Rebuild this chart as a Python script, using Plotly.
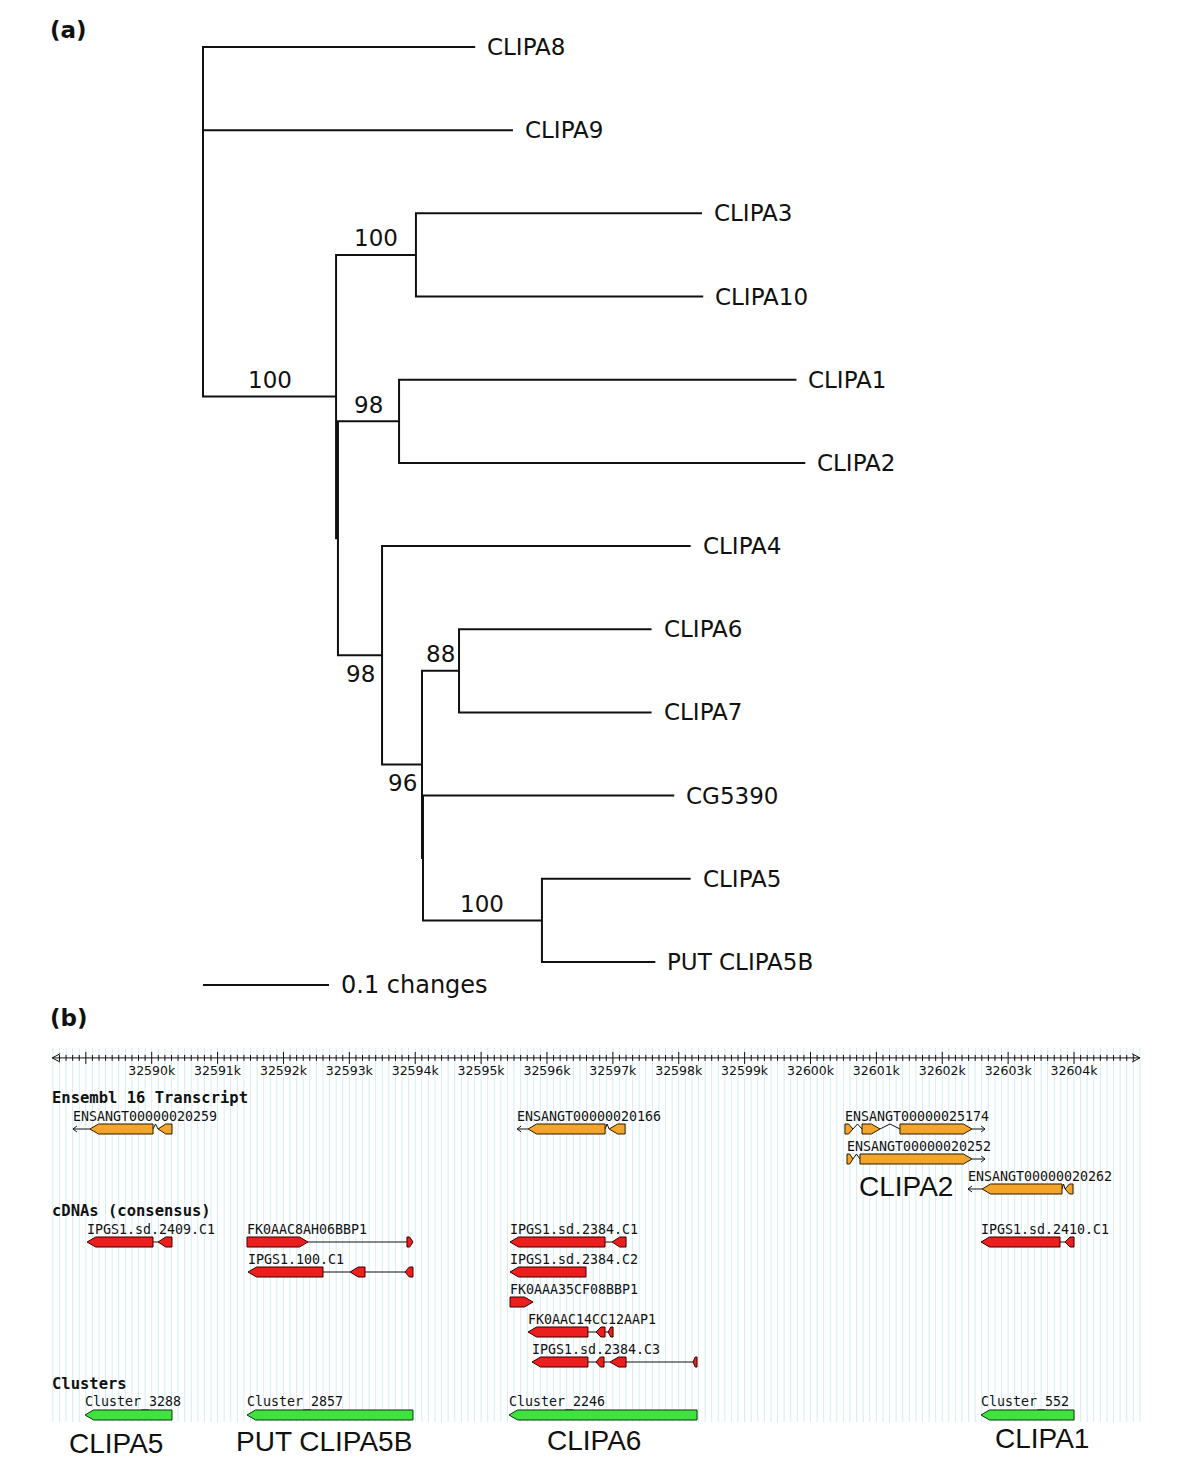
import plotly.graph_objects as go

# ------------------------------------------------------------------
# Panel (a): neighbour-joining tree
# ------------------------------------------------------------------
leaf_names = ["CLIPA8", "CLIPA9", "CLIPA3", "CLIPA10", "CLIPA1", "CLIPA2",
              "CLIPA4", "CLIPA6", "CLIPA7", "CG5390", "CLIPA5", "PUT CLIPA5B"]
leaf_parent = ["root", "root", "n310", "n310", "n12", "n12",
               "C", "E", "E", "F", "G", "G"]
leaf_depth = [0.216, 0.246, 0.396, 0.397, 0.471, 0.478,
              0.387, 0.356, 0.356, 0.374, 0.387, 0.359]

node_names = ["root", "A", "B", "n310", "n12", "C", "D", "E", "F", "G"]
node_parent = [None, "root", "A", "A", "B", "B", "C", "D", "D", "F"]
node_depth = [0.0, 0.1056, 0.1071, 0.1690, 0.1556, 0.1421, 0.1738, 0.2032, 0.1746, 0.2690]

boot_nodes = ["A", "n310", "n12", "C", "E", "D", "G"]
boot_values = [100, 100, 98, 98, 88, 96, 100]
boot_side = ["above", "above", "above", "below", "above", "below", "above"]

scale_len = 0.1
scale_label = "0.1 changes"

# ------------------------------------------------------------------
# Panel (b): genome browser view (positions in kb)
# ------------------------------------------------------------------
ruler_start, ruler_end = 32588.49, 32605.0
major_ticks = list(range(32590, 32605))
major_labels = [f"{t}k" for t in major_ticks]

track_names = ["Ensembl 16 Transcript", "cDNAs (consensus)", "Clusters"]
track_offset = [0.0, 3.767, 9.533]
track_fill = ["#F2A52A", "#EC1E1E", "#3FE23F"]
track_edge = ["#2b1a00", "#3a0000", "#0b360b"]

feat_names = [
    "ENSANGT00000020259", "ENSANGT00000020166", "ENSANGT00000025174",
    "ENSANGT00000020252", "ENSANGT00000020262",
    "IPGS1.sd.2409.C1", "FK0AAC8AH06BBP1", "IPGS1.100.C1",
    "IPGS1.sd.2384.C1", "IPGS1.sd.2384.C2", "FK0AAA35CF08BBP1",
    "FK0AAC14CC12AAP1", "IPGS1.sd.2384.C3", "IPGS1.sd.2410.C1",
    "Cluster_3288", "Cluster_2857", "Cluster_2246", "Cluster_552",
]
feat_track = [0, 0, 0, 0, 0,
              1, 1, 1, 1, 1, 1, 1, 1, 1,
              2, 2, 2, 2]
feat_row = [0, 0, 0, 1, 2,
            0, 0, 1, 0, 1, 2, 3, 4, 0,
            0, 0, 0, 0]
feat_strand = [-1, -1, 1, 1, -1,
               -1, 1, -1, -1, -1, 1, -1, -1, -1,
               -1, -1, -1, -1]
feat_exons = [
    [(32589.063, 32590.020), (32590.096, 32590.308)],
    [(32595.713, 32596.882), (32596.943, 32597.186)],
    [(32600.523, 32600.645), (32600.782, 32601.055), (32601.358, 32602.451)],
    [(32600.554, 32600.645), (32600.751, 32602.451)],
    [(32602.604, 32603.818), (32603.864, 32603.985)],
    [(32589.019, 32590.020), (32590.096, 32590.308)],
    [(32591.447, 32592.373), (32593.875, 32593.966)],
    [(32591.462, 32592.600), (32593.010, 32593.238), (32593.845, 32593.966)],
    [(32595.439, 32596.881), (32596.988, 32597.200)],
    [(32595.439, 32596.592)],
    [(32595.439, 32595.788)],
    [(32595.712, 32596.622), (32596.744, 32596.881), (32596.927, 32597.003)],
    [(32595.773, 32596.622), (32596.744, 32596.866), (32596.957, 32597.200), (32598.217, 32598.278)],
    [(32602.588, 32603.787), (32603.864, 32604.000)],
    [(32588.988, 32590.308)],
    [(32591.447, 32593.966)],
    [(32595.424, 32598.278)],
    [(32602.588, 32604.000)],
]
# direction arrow tip of Ensembl transcripts (None = no arrow)
feat_arrow_tip = [32588.805, 32595.548, 32602.649, 32602.649, 32602.391,
                  None, None, None, None, None, None, None, None, None,
                  None, None, None, None]

gene_labels = ["CLIPA2", "CLIPA5", "PUT CLIPA5B", "CLIPA6", "CLIPA1"]
gene_label_x = [32601.45, 32589.46, 32592.62, 32596.71, 32603.51]
gene_label_row = [1.9, 10.47, 10.43, 10.37, 10.3]

# ------------------------------------------------------------------
W, H = 1200, 1474
OFF = 8  # page body margin compensation
fig = go.Figure()

# ---------------- tree geometry ----------------
parent_of, depth_of = {}, {}
for n, p, d in zip(node_names, node_parent, node_depth):
    parent_of[n] = p
    depth_of[n] = d
for n, p, d in zip(leaf_names, leaf_parent, leaf_depth):
    parent_of[n] = p
    depth_of[n] = d
children = {n: [] for n in node_names}
for n in leaf_names + node_names:
    if parent_of[n] is not None:
        children[parent_of[n]].append(n)
y_of = {n: i for i, n in enumerate(leaf_names)}


def get_y(n):
    if n in y_of:
        return y_of[n]
    ys = [get_y(c) for c in children[n]]
    y_of[n] = (min(ys) + max(ys)) / 2
    return y_of[n]


get_y("root")

tx, ty = [], []
for n in node_names:
    ch = sorted(children[n], key=lambda c: y_of[c])
    first, last = ch[0], ch[-1]
    d = depth_of[n]
    tx += [depth_of[first], d, d, depth_of[last], None]
    ty += [y_of[first], y_of[first], y_of[last], y_of[last], None]
    for c in ch[1:-1]:
        tx += [d, depth_of[c], None]
        ty += [y_of[c], y_of[c], None]

fig.add_trace(go.Scatter(x=tx, y=ty, mode="lines",
                         line=dict(color="#111111", width=2),
                         xaxis="x", yaxis="y", hoverinfo="skip", showlegend=False))

scale_y = len(leaf_names) - 1 + 0.277
fig.add_trace(go.Scatter(x=[0, scale_len], y=[scale_y, scale_y], mode="lines",
                         line=dict(color="#111111", width=2),
                         xaxis="x", yaxis="y", hoverinfo="skip", showlegend=False))

annotations = []
tree_font = dict(family="DejaVu Sans", size=23, color="#111111")
for n in leaf_names:
    annotations.append(dict(x=depth_of[n], y=y_of[n], xref="x", yref="y",
                            text=n, showarrow=False, xanchor="left", yanchor="middle",
                            xshift=10, font=tree_font))
for n, v, s in zip(boot_nodes, boot_values, boot_side):
    xm = (depth_of[n] + depth_of[parent_of[n]]) / 2
    dy = -0.2 if s == "above" else 0.22
    annotations.append(dict(x=xm, y=y_of[n] + dy, xref="x", yref="y",
                            text=str(v), showarrow=False, xanchor="center",
                            yanchor="middle", font=tree_font))
annotations.append(dict(x=scale_len, y=scale_y, xref="x", yref="y", text=scale_label,
                        showarrow=False, xanchor="left", yanchor="middle", xshift=10,
                        font=dict(family="DejaVu Sans", size=24, color="#111111")))

# ---------------- genome browser ----------------
RULER_Y = -2.37
TICKLABEL_Y = -1.9
STRIPE_TOP, STRIPE_BOT = -2.7, 9.77
H_EX = 0.167

# background stripes every 100 bp
sx, sy = [], []
n_str = int(round((ruler_end - 32588.5) / 0.1))
for i in range(n_str + 1):
    x = 32588.5 + 0.1 * i
    sx += [x, x, None]
    sy += [STRIPE_TOP, STRIPE_BOT, None]
fig.add_trace(go.Scatter(x=sx, y=sy, mode="lines", line=dict(color="#d3eef2", width=1),
                         xaxis="x2", yaxis="y2", hoverinfo="skip", showlegend=False))

# ruler
rx = [ruler_start, ruler_end, None]
ry = [RULER_Y, RULER_Y, None]
rx += [ruler_start + 0.12, ruler_start, ruler_start + 0.12, None]
ry += [RULER_Y - 0.14, RULER_Y, RULER_Y + 0.14, None]
rx += [ruler_end - 0.12, ruler_end, ruler_end - 0.12, None]
ry += [RULER_Y - 0.14, RULER_Y, RULER_Y + 0.14, None]
for i in range(1, n_str):
    x = 32588.5 + 0.1 * i
    big = abs(x - round(x)) < 1e-6
    hh = 0.2 if big else 0.1
    rx += [x, x, None]
    ry += [RULER_Y - hh, RULER_Y + hh, None]
fig.add_trace(go.Scatter(x=rx, y=ry, mode="lines", line=dict(color="#111111", width=1),
                         xaxis="x2", yaxis="y2", hoverinfo="skip", showlegend=False))
fig.add_trace(go.Scatter(x=major_ticks, y=[TICKLABEL_Y] * len(major_ticks), mode="text",
                         text=major_labels, textposition="middle center",
                         textfont=dict(family="DejaVu Sans", size=12.5, color="#111111"),
                         xaxis="x2", yaxis="y2", hoverinfo="skip", showlegend=False))

# track headers
for name, off in zip(track_names, track_offset):
    annotations.append(dict(x=32588.49, y=off - 1.03, xref="x2", yref="y2",
                            text=f"<b>{name}</b>", showarrow=False, xanchor="left",
                            yanchor="middle", xshift=-2,
                            font=dict(family="DejaVu Sans Mono", size=15.5, color="#111111")))


def exon_poly(s, e, yc, strand):
    w = e - s
    p = min(0.13, 0.55 * w)
    if strand < 0:
        pts = [(s, yc), (s + p, yc - H_EX), (e, yc - H_EX), (e, yc + H_EX), (s + p, yc + H_EX), (s, yc)]
    else:
        pts = [(s, yc - H_EX), (e - p, yc - H_EX), (e, yc), (e - p, yc + H_EX), (s, yc + H_EX), (s, yc - H_EX)]
    return [p_[0] for p_ in pts], [p_[1] for p_ in pts]


poly = {t: ([], []) for t in range(len(track_names))}
lx, ly = [], []
for name, t, r, st, exs, tip in zip(feat_names, feat_track, feat_row, feat_strand,
                                     feat_exons, feat_arrow_tip):
    yc = track_offset[t] + r
    for (s, e) in exs:
        px, py = exon_poly(s, e, yc, st)
        poly[t][0].extend(px + [None])
        poly[t][1].extend(py + [None])
    # introns
    for (s0, e0), (s1, e1) in zip(exs[:-1], exs[1:]):
        if t == 0:
            lx += [e0, (e0 + s1) / 2, s1, None]
            ly += [yc, yc - H_EX, yc, None]
        else:
            lx += [e0, s1, None]
            ly += [yc, yc, None]
    xmin = exs[0][0]
    if tip is not None:
        if st < 0:
            lx += [tip, exs[0][0], None, tip + 0.06, tip, tip + 0.06, None]
            xmin = tip
        else:
            lx += [exs[-1][1], tip, None, tip - 0.06, tip, tip - 0.06, None]
        ly += [yc, yc, None, yc - 0.1, yc, yc + 0.1, None]
    annotations.append(dict(x=xmin, y=yc - 0.42, xref="x2", yref="y2", text=name,
                            showarrow=False, xanchor="left", yanchor="middle", xshift=-2,
                            font=dict(family="DejaVu Sans Mono", size=13.3, color="#111111")))

fig.add_trace(go.Scatter(x=lx, y=ly, mode="lines", line=dict(color="#111111", width=1),
                         xaxis="x2", yaxis="y2", hoverinfo="skip", showlegend=False))
for t in range(len(track_names)):
    fig.add_trace(go.Scatter(x=poly[t][0], y=poly[t][1], mode="lines", fill="toself",
                             fillcolor=track_fill[t], line=dict(color=track_edge[t], width=1),
                             xaxis="x2", yaxis="y2", hoverinfo="skip", showlegend=False))

for g, gx, gy in zip(gene_labels, gene_label_x, gene_label_row):
    annotations.append(dict(x=gx, y=gy, xref="x2", yref="y2", text=g, showarrow=False,
                            xanchor="center", yanchor="middle",
                            font=dict(family="Liberation Sans", size=28, color="#111111")))

# panel letters
for lab, py in [("(a)", 30), ("(b)", 1018)]:
    annotations.append(dict(x=(48 - OFF) / W, y=1 - (py - OFF) / H, xref="paper", yref="paper",
                            text=f"<b>{lab}</b>", showarrow=False, xanchor="left",
                            yanchor="middle",
                            font=dict(family="DejaVu Sans", size=23, color="#111111")))

# ---------------- layout (target pixel positions, shifted by page margin) ----------------
PX_TREE_X = 1260.0
PX_TREE_Y = 83.18
ROOT_PX = 203 - OFF
LEAF0_PX = 47 - OFF
tree_bot_px = 1000
PX_KB = 65.88
KB_AT_PX0 = 32590 - (151.7 - OFF) / PX_KB
PX_ROW = 30.0
ROW0_PX = 1129 - OFF
b_top_px = 1030

fig.update_layout(
    width=W, height=H,
    margin=dict(l=0, r=0, t=0, b=0),
    paper_bgcolor="white", plot_bgcolor="white",
    showlegend=False,
    xaxis=dict(domain=[0, 1], range=[-ROOT_PX / PX_TREE_X, (W - ROOT_PX) / PX_TREE_X],
               visible=False, anchor="y"),
    yaxis=dict(domain=[1 - tree_bot_px / H, 1],
               range=[(tree_bot_px - LEAF0_PX) / PX_TREE_Y, (0 - LEAF0_PX) / PX_TREE_Y],
               visible=False, anchor="x"),
    xaxis2=dict(domain=[0, 1], range=[KB_AT_PX0, KB_AT_PX0 + W / PX_KB],
                visible=False, anchor="y2"),
    yaxis2=dict(domain=[0, 1 - b_top_px / H],
                range=[(H - ROW0_PX) / PX_ROW, (b_top_px - ROW0_PX) / PX_ROW],
                visible=False, anchor="x2"),
    annotations=annotations,
)

fig.write_html("out.html")
